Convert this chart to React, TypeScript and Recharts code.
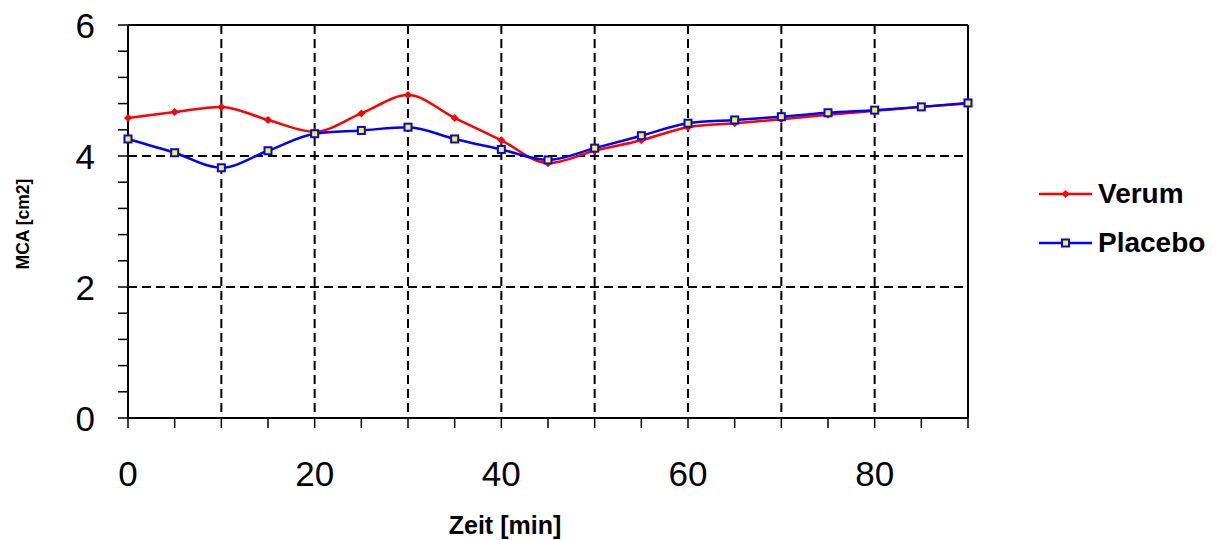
import React from 'react';
import {
  LineChart,
  Line,
  XAxis,
  YAxis,
  CartesianGrid,
  ReferenceLine,
  Legend,
} from 'recharts';

const zeit = [0, 5, 10, 15, 20, 25, 30, 35, 40, 45, 50, 55, 60, 65, 70, 75, 80, 85, 90];
const verum = [4.58, 4.67, 4.75, 4.55, 4.37, 4.65, 4.93, 4.58, 4.24, 3.89, 4.08, 4.24, 4.44, 4.5, 4.56, 4.63, 4.69, 4.75, 4.8];
const placebo = [4.26, 4.05, 3.82, 4.08, 4.34, 4.39, 4.44, 4.26, 4.1, 3.94, 4.12, 4.31, 4.5, 4.55, 4.6, 4.66, 4.7, 4.75, 4.81];

const seriesOrder = ['Verum', 'Placebo'];
const xTicks = [0, 5, 10, 15, 20, 25, 30, 35, 40, 45, 50, 55, 60, 65, 70, 75, 80, 85, 90];
const xLabels = [0, 20, 40, 60, 80];
const yTicks = [0, 0.4, 0.8, 1.2, 1.6, 2, 2.4, 2.8, 3.2, 3.6, 4, 4.4, 4.8, 5.2, 5.6, 6];
const yLabels = [0, 2, 4, 6];
const xGrid = [10, 20, 30, 40, 50, 60, 70, 80];
const yGrid = [2, 4];

const data = zeit.map((t, i) => ({ t, Verum: verum[i], Placebo: placebo[i] }));

const FONT = "Arial, 'Liberation Sans', sans-serif";

const XTick = ({ x, y, payload }: any) => {
  if (!xLabels.includes(payload.value)) return null;
  return (
    <text x={x} y={y + 56} textAnchor="middle" fontSize={35} fill="#000" fontFamily={FONT}>
      {payload.value}
    </text>
  );
};

const YTick = ({ x, y, payload }: any) => {
  const lbl = yLabels.find((v) => Math.abs(v - payload.value) < 1e-6);
  if (lbl === undefined) return null;
  return (
    <text x={x - 21} y={y} dy="0.36em" textAnchor="end" fontSize={35} fill="#000" fontFamily={FONT}>
      {lbl}
    </text>
  );
};

const VerumDot = ({ cx, cy }: any) => (
  <polygon
    points={`${cx},${cy - 4} ${cx + 4},${cy} ${cx},${cy + 4} ${cx - 4},${cy}`}
    fill="#ff0000"
  />
);

const PlaceboDot = ({ cx, cy }: any) => (
  <rect x={cx - 3.5} y={cy - 3.5} width={7} height={7} fill="#ffff00" stroke="#0000ff" strokeWidth={2} />
);

const LegendContent = ({ payload }: any) => {
  const items = [...(payload || [])].sort(
    (a: any, b: any) => seriesOrder.indexOf(a.value) - seriesOrder.indexOf(b.value)
  );
  return (
    <div style={{ fontFamily: FONT }}>
      {items.map((p: any) => (
        <div key={p.value} style={{ display: 'flex', alignItems: 'center', height: 49 }}>
          <svg width={53} height={12} style={{ display: 'block' }}>
            <line x1={0} y1={6} x2={53} y2={6} stroke={p.color} strokeWidth={2.5} />
            {p.value === 'Verum' ? <VerumDot cx={26.5} cy={6} /> : <PlaceboDot cx={26.5} cy={6} />}
          </svg>
          <span style={{ marginLeft: 6, fontSize: 28, fontWeight: 'bold', color: '#000', whiteSpace: 'nowrap' }}>
            {p.value}
          </span>
        </div>
      ))}
    </div>
  );
};

export default function App() {
  return (
    <div style={{ position: 'absolute', left: 0, top: 0, fontFamily: FONT, background: '#fff' }}>
      <LineChart width={1218} height={540} data={data} margin={{ top: 25, right: 250, bottom: 0, left: 0 }}>
        <CartesianGrid
          horizontal
          vertical
          horizontalValues={yGrid}
          verticalValues={xGrid}
          stroke="#000"
          strokeWidth={2}
          strokeDasharray="9 5"
        />
        <XAxis
          dataKey="t"
          type="number"
          domain={[0, 90]}
          ticks={xTicks}
          interval={0}
          height={122}
          tickSize={10}
          tickLine={{ stroke: '#000', strokeWidth: 1.5 }}
          axisLine={{ stroke: '#000', strokeWidth: 2 }}
          tick={<XTick />}
          label={{
            content: () => (
              <text x={505} y={534} textAnchor="middle" fontSize={25} fontWeight="bold" fontFamily={FONT}>
                Zeit [min]
              </text>
            ),
          }}
        />
        <YAxis
          type="number"
          domain={[0, 6]}
          ticks={yTicks}
          interval={0}
          width={128}
          tickSize={10}
          tickLine={{ stroke: '#000', strokeWidth: 1.5 }}
          axisLine={{ stroke: '#000', strokeWidth: 2 }}
          tick={<YTick />}
          label={{
            content: () => (
              <text
                x={23}
                y={224}
                transform="rotate(-90 23 224)"
                textAnchor="middle"
                dy="0.36em"
                fontSize={17.5}
                fontWeight="bold"
                fontFamily={FONT}
              >
                MCA [cm2]
              </text>
            ),
          }}
        />
        <ReferenceLine y={6} stroke="#000" strokeWidth={2} />
        <ReferenceLine x={90} stroke="#000" strokeWidth={2} />
        <Legend
          layout="horizontal"
          verticalAlign="middle"
          align="center"
          content={<LegendContent />}
          wrapperStyle={{ left: 1039, top: 169, width: 176, height: 98 }}
        />
        <Line
          type="monotone"
          dataKey="Verum"
          stroke="#ff0000"
          strokeWidth={2.5}
          dot={<VerumDot />}
          activeDot={false}
          isAnimationActive={false}
        />
        <Line
          type="monotone"
          dataKey="Placebo"
          stroke="#0000ff"
          strokeWidth={2.5}
          dot={<PlaceboDot />}
          activeDot={false}
          isAnimationActive={false}
        />
      </LineChart>
    </div>
  );
}
